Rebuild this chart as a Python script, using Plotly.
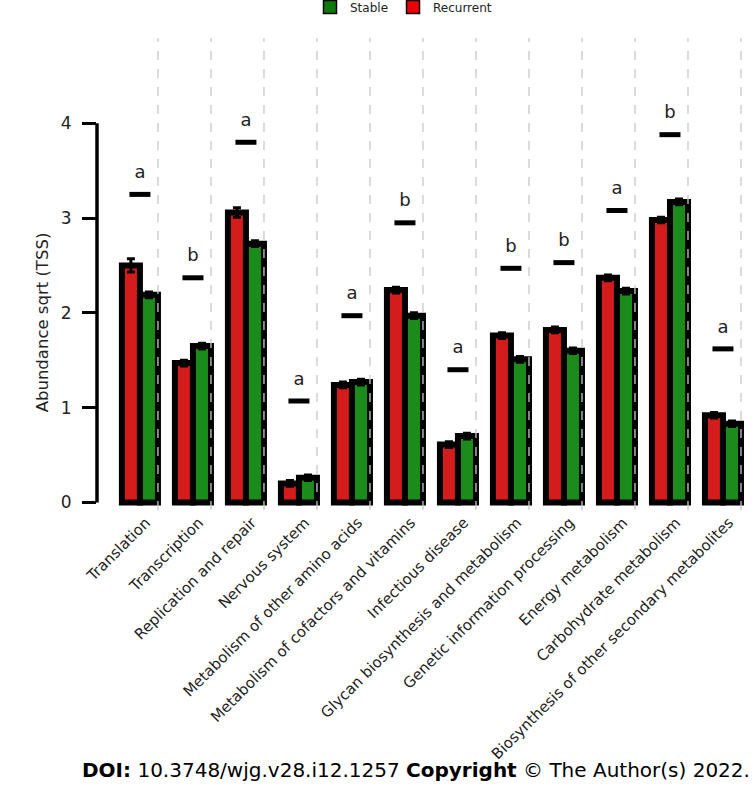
import plotly.graph_objects as go

categories = ["Translation", "Transcription", "Replication and repair", "Nervous system",
              "Metabolism of other amino acids", "Metabolism of cofactors and vitamins",
              "Infectious disease", "Glycan biosynthesis and metabolism",
              "Genetic information processing", "Energy metabolism",
              "Carbohydrate metabolism", "Biosynthesis of other secondary metabolites"]
recurrent = [2.50, 1.47, 3.06, 0.20, 1.24, 2.24, 0.61, 1.76, 1.82, 2.37, 2.98, 0.92]
stable = [2.19, 1.65, 2.73, 0.26, 1.27, 1.97, 0.70, 1.51, 1.60, 2.23, 3.17, 0.83]
recurrent_err = [0.07, 0.03, 0.05, 0.03, 0.03, 0.03, 0.03, 0.03, 0.03, 0.03, 0.03, 0.03]
stable_err = [0.03, 0.03, 0.03, 0.03, 0.03, 0.03, 0.03, 0.03, 0.03, 0.03, 0.03, 0.03]
sig_y = [3.25, 2.37, 3.80, 1.07, 1.97, 2.95, 1.40, 2.47, 2.53, 3.08, 3.88, 1.62]
sig_letters = ["a", "b", "a", "a", "a", "b", "a", "b", "b", "a", "b", "a"]
y_ticks = [0, 1, 2, 3, 4]

RED = "#d41c1c"
GREEN = "#1b8c1b"
FONT = "DejaVu Sans"

xs = list(range(len(categories)))
fig = go.Figure()

fig.add_trace(go.Bar(x=xs, y=recurrent, name="Recurrent", showlegend=False,
                     marker=dict(color=RED, line=dict(color="black", width=6)),
                     error_y=dict(type="data", array=recurrent_err, color="black",
                                  thickness=3, width=4)))
fig.add_trace(go.Bar(x=xs, y=stable, name="Stable", showlegend=False,
                     marker=dict(color=GREEN, line=dict(color="black", width=6)),
                     error_y=dict(type="data", array=stable_err, color="black",
                                  thickness=3, width=4)))

# significance bars and letters
fig.add_trace(go.Scatter(x=xs, y=sig_y, mode="markers", showlegend=False, hoverinfo="skip",
                         marker=dict(symbol="line-ew", size=15,
                                     line=dict(color="black", width=5))))
fig.add_trace(go.Scatter(x=xs, y=[v + 0.22 for v in sig_y], mode="text", text=sig_letters,
                         showlegend=False, hoverinfo="skip",
                         textfont=dict(family=FONT, size=18, color="#222")))

# legend entries
fig.add_trace(go.Scatter(x=[None], y=[None], mode="markers", name="Stable",
                         marker=dict(symbol="square", size=13, color="#0e7a0e",
                                     line=dict(color="black", width=1.5))))
fig.add_trace(go.Scatter(x=[None], y=[None], mode="markers", name="Recurrent",
                         marker=dict(symbol="square", size=13, color="#f00000",
                                     line=dict(color="black", width=1.5))))

shapes = []
for i in xs:
    shapes.append(dict(type="line", xref="x", yref="paper", x0=i + 0.34, x1=i + 0.34,
                       y0=0, y1=1, layer="above",
                       line=dict(color="#c8c8c8", width=1.3, dash="dash")))
shapes.append(dict(type="line", xref="paper", yref="y", x0=0, x1=0, y0=0, y1=4,
                   line=dict(color="black", width=3.5)))

fig.update_layout(
    width=752, height=785,
    margin=dict(l=97, r=2, t=38, b=275),
    paper_bgcolor="white", plot_bgcolor="white",
    barmode="group", bargap=0.32, bargroupgap=0,
    font=dict(family=FONT, color="#222"),
    shapes=shapes,
    legend=dict(orientation="h", xref="container", yref="container",
                x=310 / 752, xanchor="left", y=1 - 7 / 785, yanchor="middle",
                font=dict(family=FONT, size=12, color="#222"), traceorder="normal",
                bgcolor="rgba(0,0,0,0)"),
    xaxis=dict(range=[-0.81, 11.51], tickmode="array", tickvals=xs, ticktext=categories,
               tickangle=-45, showgrid=False, zeroline=False, showline=False, ticks="",
               automargin=False, ticklabelshift=6,
               tickfont=dict(family=FONT, size=15, color="#222")),
    yaxis=dict(range=[-0.08, 4.9], tickmode="array", tickvals=y_ticks,
               showgrid=False, zeroline=False, showline=False, automargin=False,
               ticks="outside", ticklen=14, tickwidth=3, tickcolor="black",
               ticklabelstandoff=7,
               tickfont=dict(family=FONT, size=17, color="#222")),
    annotations=[
        dict(text="Abundance sqrt (TSS)", xref="paper", yref="y", x=0, y=1.9,
             xanchor="center", yanchor="middle",
             xshift=-55, textangle=-90, showarrow=False,
             font=dict(family=FONT, size=16.5, color="#222")),
        dict(text="<b>DOI:</b> 10.3748/wjg.v28.i12.1257 <b>Copyright</b> © The Author(s) 2022.",
             xref="paper", yref="paper", x=(415.5 - 97) / 653, y=(510 - 770) / 472,
             xanchor="center", yanchor="middle",
             showarrow=False, font=dict(family=FONT, size=20, color="black")),
    ],
)

fig.write_html("out.html", config={"displayModeBar": False},
               post_script="document.body.style.margin='0';")
